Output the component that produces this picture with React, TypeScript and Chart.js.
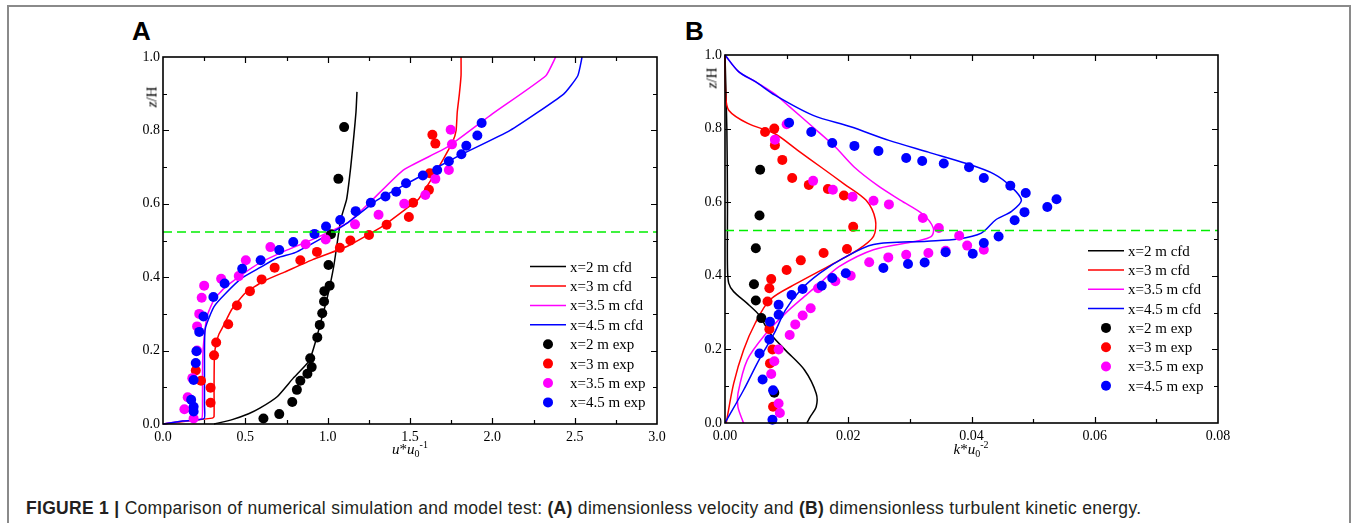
import React, { useEffect, useRef } from "react";
import { Chart, registerables } from "chart.js";

Chart.register(...registerables);

// ---------------- Panel A data (u*u0^-1 vs z/H) ----------------
const A_X_TICKS = [0, 0.5, 1, 1.5, 2, 2.5, 3];
const A_X_MINOR = [0.25, 0.75, 1.25, 1.75, 2.25, 2.75];
const A_Y_TICKS = [0, 0.2, 0.4, 0.6, 0.8, 1.0];
const A_Y_MINOR = [0.1, 0.3, 0.5, 0.7, 0.9];

const A_CFD_2M = [[0.31, 0], [0.42, 0.012], [0.52, 0.028], [0.588, 0.043], [0.695, 0.075], [0.791, 0.125], [0.888, 0.172], [0.93, 0.23], [0.965, 0.29], [0.995, 0.339], [1.037, 0.43], [1.08, 0.558], [1.115, 0.612], [1.14, 0.7], [1.16, 0.79], [1.172, 0.85], [1.178, 0.905]];
const A_CFD_3M = [[0, 0], [0.15, 0.008], [0.3, 0.016], [0.31, 0.02], [0.31, 0.1], [0.312, 0.18], [0.32, 0.215], [0.34, 0.245], [0.365, 0.266], [0.417, 0.312], [0.5, 0.357], [0.61, 0.389], [0.738, 0.414], [0.909, 0.448], [1.123, 0.485], [1.337, 0.54], [1.487, 0.59], [1.55, 0.612], [1.62, 0.66], [1.7, 0.72], [1.76, 0.77], [1.78, 0.8], [1.787, 0.85], [1.8, 0.9], [1.81, 0.95], [1.81, 1.0]];
const A_CFD_35M = [[0, 0], [0.12, 0.008], [0.235, 0.015], [0.24, 0.05], [0.24, 0.15], [0.245, 0.211], [0.267, 0.293], [0.31, 0.339], [0.374, 0.371], [0.48, 0.407], [0.588, 0.439], [0.738, 0.471], [0.909, 0.503], [1.123, 0.549], [1.27, 0.61], [1.459, 0.692], [1.729, 0.755], [2.0, 0.845], [2.325, 0.949], [2.385, 1.0]];
const A_CFD_45M = [[0, 0], [0.12, 0.008], [0.25, 0.015], [0.252, 0.05], [0.252, 0.2], [0.255, 0.255], [0.267, 0.275], [0.31, 0.32], [0.374, 0.353], [0.48, 0.398], [0.588, 0.426], [0.695, 0.453], [0.802, 0.467], [0.952, 0.503], [1.123, 0.549], [1.3, 0.61], [1.502, 0.66], [1.784, 0.728], [2.108, 0.8], [2.433, 0.899], [2.519, 0.949], [2.545, 1.0]];

const A_EXP_2M = [[0.61, 0.015], [0.706, 0.027], [0.785, 0.06], [0.813, 0.093], [0.834, 0.118], [0.877, 0.137], [0.903, 0.155], [0.894, 0.179], [0.937, 0.236], [0.952, 0.27], [0.967, 0.302], [0.978, 0.334], [0.98, 0.362], [1.012, 0.377], [1.005, 0.433], [1.02, 0.517], [1.065, 0.668], [1.1, 0.809]];
const A_EXP_3M = [[0.199, 0.146], [0.231, 0.118], [0.289, 0.058], [0.289, 0.099], [0.31, 0.187], [0.323, 0.222], [0.396, 0.272], [0.449, 0.323], [0.528, 0.362], [0.599, 0.394], [0.678, 0.426], [0.834, 0.446], [0.935, 0.469], [1.074, 0.48], [1.138, 0.5], [1.251, 0.515], [1.358, 0.543], [1.493, 0.564], [1.519, 0.603], [1.615, 0.638], [1.62, 0.683], [1.654, 0.764], [1.636, 0.788]];
const A_EXP_35M = [[0.13, 0.04], [0.15, 0.073], [0.186, 0.015], [0.178, 0.125], [0.207, 0.2], [0.207, 0.266], [0.22, 0.3], [0.235, 0.344], [0.25, 0.377], [0.353, 0.396], [0.46, 0.403], [0.503, 0.446], [0.652, 0.482], [0.866, 0.49], [0.988, 0.503], [1.166, 0.544], [1.309, 0.57], [1.465, 0.6], [1.593, 0.624], [1.654, 0.668], [1.736, 0.692], [1.755, 0.762], [1.747, 0.802]];
const A_EXP_45M = [[0.186, 0.034], [0.186, 0.047], [0.171, 0.066], [0.186, 0.12], [0.199, 0.166], [0.203, 0.198], [0.22, 0.251], [0.246, 0.293], [0.306, 0.346], [0.374, 0.383], [0.481, 0.423], [0.593, 0.446], [0.706, 0.474], [0.791, 0.496], [0.92, 0.518], [0.99, 0.538], [1.076, 0.556], [1.17, 0.58], [1.262, 0.603], [1.351, 0.62], [1.416, 0.633], [1.476, 0.656], [1.578, 0.677], [1.665, 0.692], [1.736, 0.716], [1.812, 0.735], [1.842, 0.758], [1.909, 0.786], [1.935, 0.82]];

// ---------------- Panel B data (k*u0^-2 vs z/H) ----------------
const B_X_TICKS = [0, 0.02, 0.04, 0.06, 0.08];
const B_X_MINOR = [0.01, 0.03, 0.05, 0.07];
const B_Y_TICKS = [0, 0.2, 0.4, 0.6, 0.8, 1.0];
const B_Y_MINOR = [0.1, 0.3, 0.5, 0.7, 0.9];

const B_CFD_2M = [[0, 1.0], [0.0003, 0.8], [0.0004, 0.6], [0.0004, 0.425], [0.0006, 0.38], [0.0014, 0.357], [0.0036, 0.325], [0.0055, 0.294], [0.0073, 0.244], [0.0098, 0.198], [0.0129, 0.144], [0.0148, 0.08], [0.0148, 0.044], [0.0138, 0.016], [0.0133, 0]];
const B_CFD_3M = [[0, 1.0], [0.0001, 0.895], [0.0006, 0.85], [0.0037, 0.814], [0.0081, 0.786], [0.0118, 0.741], [0.0156, 0.695], [0.0193, 0.65], [0.0229, 0.605], [0.0244, 0.553], [0.0241, 0.507], [0.0216, 0.471], [0.0167, 0.425], [0.0117, 0.38], [0.0073, 0.335], [0.0049, 0.271], [0.003, 0.198], [0.0014, 0.107], [0.0002, 0]];
const B_CFD_35M = [[0, 1.0], [0.0022, 0.955], [0.005, 0.927], [0.008, 0.895], [0.0105, 0.859], [0.0142, 0.805], [0.0179, 0.75], [0.021, 0.695], [0.0248, 0.645], [0.0285, 0.605], [0.0322, 0.566], [0.0338, 0.53], [0.0335, 0.507], [0.031, 0.494], [0.0241, 0.471], [0.0185, 0.425], [0.0154, 0.38], [0.0129, 0.344], [0.0098, 0.298], [0.0067, 0.244], [0.0036, 0.171], [0.0021, 0.08], [0.0021, 0.044], [0.003, 0]];
const B_CFD_45M = [[0, 1.0], [0.0022, 0.955], [0.005, 0.927], [0.0081, 0.891], [0.0143, 0.836], [0.0204, 0.805], [0.0266, 0.768], [0.033, 0.736], [0.0392, 0.705], [0.0436, 0.677], [0.0465, 0.641], [0.0481, 0.605], [0.0465, 0.575], [0.044, 0.553], [0.0416, 0.516], [0.0378, 0.5], [0.0328, 0.494], [0.0241, 0.485], [0.0192, 0.448], [0.0154, 0.407], [0.0123, 0.362], [0.0098, 0.307], [0.008, 0.244], [0.0055, 0.171], [0.003, 0.089], [0, 0]];

const B_EXP_2M = [[0.0057, 0.688], [0.0056, 0.564], [0.005, 0.475], [0.0047, 0.377], [0.005, 0.333], [0.0059, 0.285], [0.008, 0.082]];
const B_EXP_3M = [[0.0065, 0.791], [0.008, 0.8], [0.0081, 0.755], [0.0093, 0.715], [0.0109, 0.666], [0.0136, 0.647], [0.0167, 0.636], [0.0193, 0.618], [0.0208, 0.533], [0.0198, 0.473], [0.016, 0.462], [0.0123, 0.442], [0.01, 0.416], [0.0075, 0.391], [0.0072, 0.366], [0.0069, 0.33], [0.0072, 0.255], [0.0077, 0.2], [0.0073, 0.162], [0.0078, 0.044]];
const B_EXP_35M = [[0.01, 0.812], [0.0081, 0.77], [0.0143, 0.658], [0.0175, 0.634], [0.0207, 0.615], [0.0241, 0.604], [0.0266, 0.594], [0.0321, 0.557], [0.0347, 0.53], [0.038, 0.509], [0.0393, 0.482], [0.042, 0.471], [0.0358, 0.468], [0.033, 0.462], [0.0294, 0.457], [0.0265, 0.45], [0.0234, 0.437], [0.0204, 0.4], [0.0179, 0.385], [0.0151, 0.366], [0.0139, 0.312], [0.0126, 0.292], [0.0114, 0.268], [0.0105, 0.239], [0.0087, 0.2], [0.008, 0.168], [0.0075, 0.133], [0.0087, 0.053], [0.0089, 0.027]];
const B_EXP_45M = [[0.0104, 0.816], [0.014, 0.791], [0.0174, 0.761], [0.021, 0.753], [0.0249, 0.739], [0.0294, 0.72], [0.032, 0.712], [0.0355, 0.705], [0.0396, 0.695], [0.042, 0.666], [0.0463, 0.645], [0.0488, 0.625], [0.0538, 0.608], [0.0523, 0.587], [0.0486, 0.573], [0.047, 0.551], [0.0444, 0.507], [0.042, 0.489], [0.0402, 0.46], [0.0358, 0.464], [0.0324, 0.436], [0.0297, 0.432], [0.0257, 0.421], [0.0196, 0.407], [0.0174, 0.394], [0.0157, 0.373], [0.0126, 0.364], [0.0108, 0.348], [0.0087, 0.321], [0.0087, 0.294], [0.0073, 0.275], [0.0072, 0.227], [0.0056, 0.189], [0.0061, 0.118], [0.0078, 0.089], [0.0077, 0.009]];

const DASH_LEVEL = 0.523;

const SERIES_LABELS = ["x=2 m", "x=3 m", "x=3.5 m", "x=4.5 m"];
const SERIES_COLORS = ["#000000", "#ff0000", "#ff00ff", "#0000ff"];

const SERIF = '"Liberation Serif", "Times New Roman", Times, serif';
const SANS = '"Liberation Sans", Arial, Helvetica, sans-serif';

type Pt = number[];

interface PanelSpec {
  id: string;
  left: number;
  top: number;
  w: number;
  h: number;
  yAxisW: number;
  xAxisH: number;
  padTop: number;
  padRight: number;
  xMax: number;
  xDec: number;
  xTicks: number[];
  xMinor: number[];
  yTicks: number[];
  yMinor: number[];
  cfd: Pt[][];
  exp: Pt[][];
  tension: number;
  legendLineX: number; // canvas px offset from chartArea.right
  legendTop: number; // offset from chartArea.top
  legendGap: number;
}

const toXY = (arr: Pt[]) => arr.map((p) => ({ x: p[0], y: p[1] }));

function buildConfig(spec: PanelSpec): any {
  const datasets: any[] = [];
  datasets.push({
    label: "dash",
    data: [{ x: 0, y: DASH_LEVEL }, { x: spec.xMax, y: DASH_LEVEL }],
    showLine: true,
    borderColor: "#00ee00",
    borderWidth: 1.6,
    borderDash: [9, 5],
    pointRadius: 0,
    order: 0,
    legendKind: "none",
  });
  spec.exp.forEach((arr, i) => {
    datasets.push({
      label: SERIES_LABELS[i] + " exp",
      data: toXY(arr),
      showLine: false,
      pointRadius: 5,
      pointBorderWidth: 0,
      pointBackgroundColor: SERIES_COLORS[i],
      backgroundColor: SERIES_COLORS[i],
      borderColor: SERIES_COLORS[i],
      order: 5 - i,
      clip: false,
      legendKind: "point",
    });
  });
  spec.cfd.forEach((arr, i) => {
    datasets.push({
      label: SERIES_LABELS[i] + " cfd",
      data: toXY(arr),
      showLine: true,
      borderColor: SERIES_COLORS[i],
      borderWidth: 1.5,
      pointRadius: 0,
      tension: spec.tension,
      order: 10 - i,
      clip: false,
      legendKind: "line",
    });
  });

  const tickFont = { family: SERIF, size: 14 };

  const framePlugin = {
    id: "frameTicks_" + spec.id,
    afterDatasetsDraw(chart: any) {
      const { ctx, chartArea, scales } = chart;
      const { left, right, top, bottom } = chartArea;
      ctx.save();
      ctx.strokeStyle = "#000";
      ctx.lineWidth = 1.2;
      const drawX = (vals: number[], len: number) => {
        vals.forEach((v) => {
          const px = Math.round(scales.x.getPixelForValue(v)) + 0.5;
          if (px <= left + 1 || px >= right - 1) return;
          ctx.beginPath();
          ctx.moveTo(px, bottom);
          ctx.lineTo(px, bottom - len);
          ctx.moveTo(px, top);
          ctx.lineTo(px, top + len);
          ctx.stroke();
        });
      };
      const drawY = (vals: number[], len: number) => {
        vals.forEach((v) => {
          const py = Math.round(scales.y.getPixelForValue(v)) + 0.5;
          if (py <= top + 1 || py >= bottom - 1) return;
          ctx.beginPath();
          ctx.moveTo(left, py);
          ctx.lineTo(left + len, py);
          ctx.moveTo(right, py);
          ctx.lineTo(right - len, py);
          ctx.stroke();
        });
      };
      drawX(spec.xTicks, 6);
      drawX(spec.xMinor, 4);
      drawY(spec.yTicks, 6);
      drawY(spec.yMinor, 4);
      ctx.lineWidth = 1.6;
      ctx.strokeRect(left, top, right - left, bottom - top);
      ctx.restore();
    },
  };

  const legendPlugin = {
    id: "legend_" + spec.id,
    afterDraw(chart: any) {
      const { ctx, chartArea } = chart;
      const x0 = chartArea.right - spec.legendLineX;
      const items: any[] = [];
      chart.data.datasets.forEach((d: any) => {
        if (d.legendKind === "line") items.push(d);
      });
      chart.data.datasets.forEach((d: any) => {
        if (d.legendKind === "point") items.push(d);
      });
      items.sort((a, b) => {
        const ka = a.legendKind === "line" ? 0 : 1;
        const kb = b.legendKind === "line" ? 0 : 1;
        if (ka !== kb) return ka - kb;
        return SERIES_LABELS.indexOf(a.label.replace(/ (cfd|exp)$/, "")) - SERIES_LABELS.indexOf(b.label.replace(/ (cfd|exp)$/, ""));
      });
      ctx.save();
      ctx.font = "15px " + SERIF;
      ctx.textBaseline = "middle";
      ctx.textAlign = "left";
      items.forEach((d, i) => {
        const cy = chartArea.top + spec.legendTop + i * spec.legendGap;
        if (d.legendKind === "line") {
          ctx.strokeStyle = d.borderColor;
          ctx.lineWidth = 1.5;
          ctx.beginPath();
          ctx.moveTo(x0, cy);
          ctx.lineTo(x0 + 36, cy);
          ctx.stroke();
        } else {
          ctx.fillStyle = d.pointBackgroundColor;
          ctx.beginPath();
          ctx.arc(x0 + 18, cy, 5, 0, Math.PI * 2);
          ctx.fill();
        }
        ctx.fillStyle = "#000";
        ctx.fillText(d.label, x0 + 40, cy + 1);
      });
      ctx.restore();
    },
  };

  return {
    type: "scatter",
    data: { datasets },
    options: {
      animation: false,
      responsive: false,
      events: [],
      layout: { padding: { top: spec.padTop, right: spec.padRight, left: 0, bottom: 0 } },
      plugins: { legend: { display: false }, tooltip: { enabled: false } },
      scales: {
        x: {
          type: "linear",
          min: 0,
          max: spec.xMax,
          grid: { display: false, drawTicks: false },
          border: { display: false },
          ticks: {
            font: tickFont,
            color: "#000",
            padding: 5,
            maxRotation: 0,
            autoSkip: false,
            callback: (v: any) => Number(v).toFixed(spec.xDec),
          },
          afterBuildTicks: (axis: any) => {
            axis.ticks = spec.xTicks.map((v) => ({ value: v }));
          },
          afterFit: (axis: any) => {
            axis.height = spec.xAxisH;
          },
        },
        y: {
          type: "linear",
          min: 0,
          max: 1,
          grid: { display: false, drawTicks: false },
          border: { display: false },
          ticks: {
            font: tickFont,
            color: "#000",
            padding: 3,
            autoSkip: false,
            callback: (v: any) => Number(v).toFixed(1),
          },
          afterBuildTicks: (axis: any) => {
            axis.ticks = spec.yTicks.map((v) => ({ value: v }));
          },
          afterFit: (axis: any) => {
            axis.width = spec.yAxisW;
          },
        },
      },
    },
    plugins: [framePlugin, legendPlugin],
  };
}

// Panel A: chart area 163..657 x 57..424
const PANEL_A: PanelSpec = {
  id: "A",
  left: 100,
  top: 20,
  w: 600,
  h: 450,
  yAxisW: 63,
  xAxisH: 46,
  padTop: 37,
  padRight: 43,
  xMax: 3,
  xDec: 1,
  xTicks: A_X_TICKS,
  xMinor: A_X_MINOR,
  yTicks: A_Y_TICKS,
  yMinor: A_Y_MINOR,
  cfd: [A_CFD_2M, A_CFD_3M, A_CFD_35M, A_CFD_45M],
  exp: [A_EXP_2M, A_EXP_3M, A_EXP_35M, A_EXP_45M],
  tension: 0.15,
  legendLineX: 127,
  legendTop: 209.6,
  legendGap: 19.4,
};

// Panel B: chart area 725..1218 x 55..423
const PANEL_B: PanelSpec = {
  id: "B",
  left: 660,
  top: 20,
  w: 600,
  h: 450,
  yAxisW: 65,
  xAxisH: 47,
  padTop: 35,
  padRight: 42,
  xMax: 0.08,
  xDec: 2,
  xTicks: B_X_TICKS,
  xMinor: B_X_MINOR,
  yTicks: B_Y_TICKS,
  yMinor: B_Y_MINOR,
  cfd: [B_CFD_2M, B_CFD_3M, B_CFD_35M, B_CFD_45M],
  exp: [B_EXP_2M, B_EXP_3M, B_EXP_35M, B_EXP_45M],
  tension: 0.3,
  legendLineX: 130,
  legendTop: 195.7,
  legendGap: 19.3,
};

function Panel({ spec }: { spec: PanelSpec }) {
  const ref = useRef<HTMLCanvasElement>(null);
  useEffect(() => {
    if (!ref.current) return;
    const chart = new Chart(ref.current, buildConfig(spec));
    return () => chart.destroy();
  }, [spec]);
  return (
    <canvas
      ref={ref}
      width={spec.w}
      height={spec.h}
      style={{ position: "absolute", left: spec.left, top: spec.top, width: spec.w, height: spec.h }}
    />
  );
}

const abs = (left: number, top: number, extra: React.CSSProperties = {}): React.CSSProperties => ({
  position: "absolute",
  left,
  top,
  whiteSpace: "nowrap",
  ...extra,
});

function XTitle({ cx, base, letter, power }: { cx: number; base: number; letter: string; power: string }) {
  return (
    <div
      style={abs(cx, base - 12.6, {
        transform: "translateX(-50%)",
        fontFamily: SERIF,
        fontSize: 15,
        lineHeight: "15px",
        color: "#000",
      })}
    >
      <i>{letter}</i>*<i>u</i>
      <span style={{ fontSize: 10, position: "relative", top: 3 }}>0</span>
      <span style={{ fontSize: 10, position: "relative", top: -6 }}>{power}</span>
    </div>
  );
}

function YTitle({ cx, cy }: { cx: number; cy: number }) {
  return (
    <div
      style={abs(cx, cy, {
        transform: "translate(-50%, -50%) rotate(-90deg)",
        fontFamily: SERIF,
        fontSize: 15,
        lineHeight: "15px",
        color: "#000",
      })}
    >
      <i>z</i>/H
    </div>
  );
}

export default function App() {
  return (
    <div
      style={{
        position: "absolute",
        left: 0,
        top: 0,
        width: 1356,
        height: 523,
        background: "#ffffff",
        overflow: "hidden",
      }}
    >
      <div
        style={{
          position: "absolute",
          left: 7,
          top: 5,
          width: 1344,
          height: 600,
          border: "2px solid #8a8a8a",
          boxSizing: "border-box",
        }}
      />
      <div style={abs(132, 18, { fontFamily: SANS, fontWeight: "bold", fontSize: 26, lineHeight: "26px", color: "#000" })}>A</div>
      <div style={abs(685, 18, { fontFamily: SANS, fontWeight: "bold", fontSize: 26, lineHeight: "26px", color: "#000" })}>B</div>
      <Panel spec={PANEL_A} />
      <Panel spec={PANEL_B} />
      <YTitle cx={152} cy={97} />
      <YTitle cx={712} cy={78} />
      <XTitle cx={410} base={455} letter="u" power="-1" />
      <XTitle cx={971} base={455} letter="k" power="-2" />
      <div
        style={abs(26, 499, {
          fontFamily: SANS,
          fontSize: 17.5,
          lineHeight: "18px",
          letterSpacing: "0.3px",
          color: "#231f20",
        })}
      >
        <b>FIGURE 1 |</b> Comparison of numerical simulation and model test: <b>(A)</b> dimensionless velocity and{" "}
        <b>(B)</b> dimensionless turbulent kinetic energy.
      </div>
    </div>
  );
}
